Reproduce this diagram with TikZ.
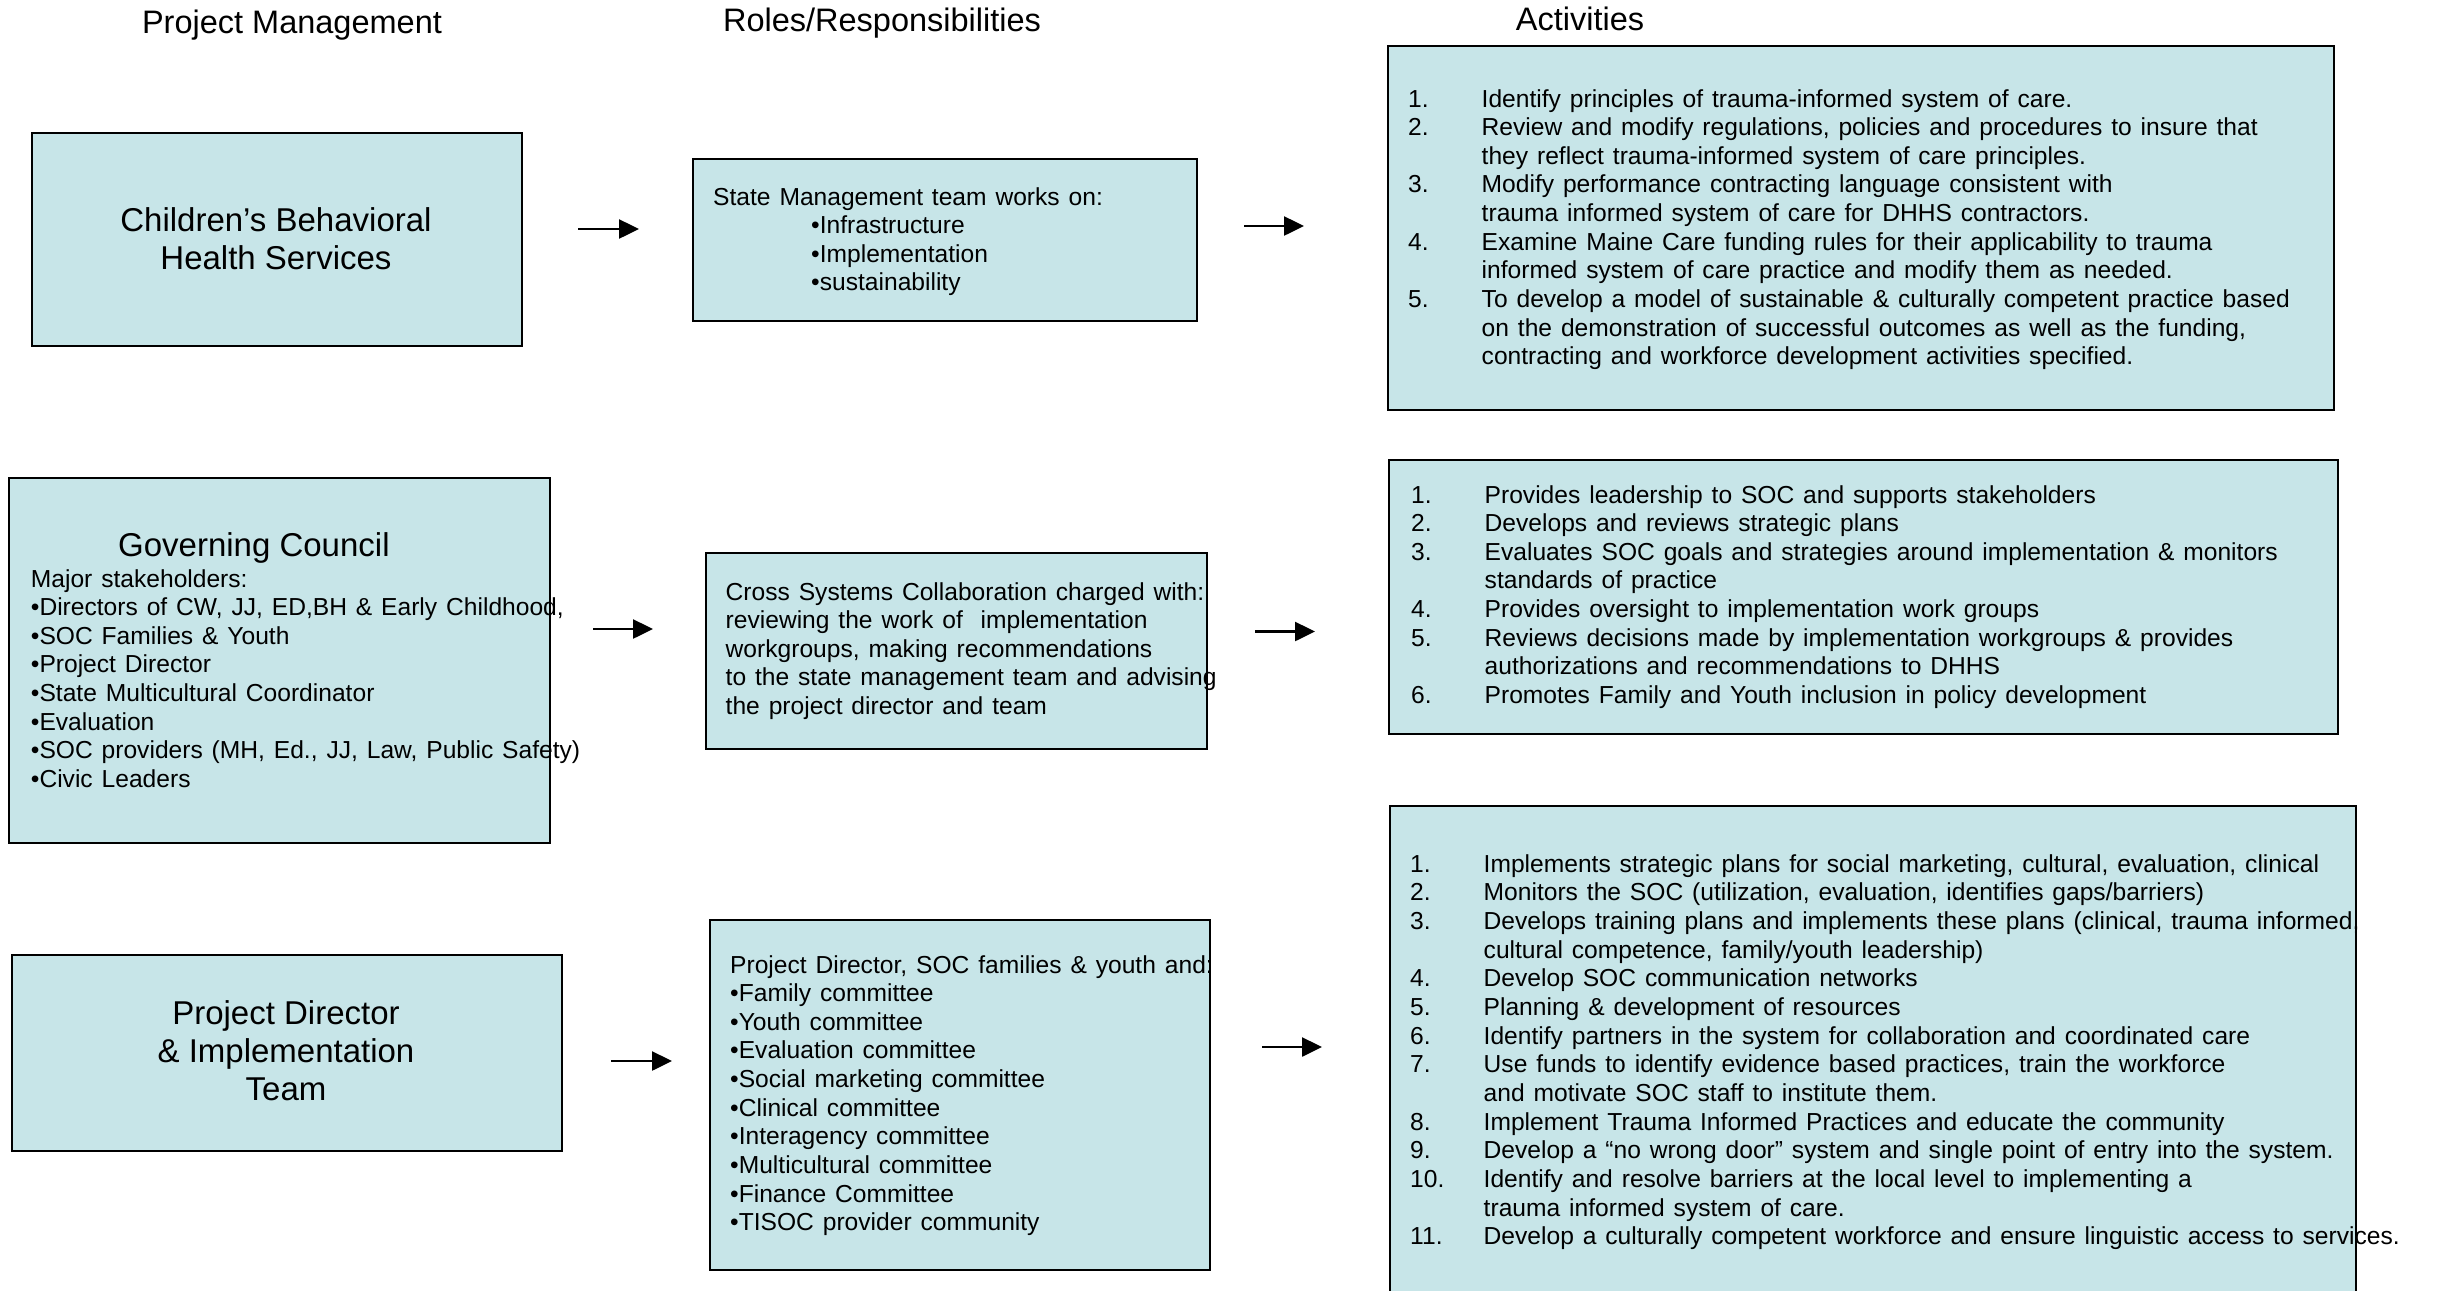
\documentclass[tikz,border=0pt]{standalone}
\usepackage{fontspec}
\setmainfont{Liberation Sans}
\newfontfamily\bodyfont[WordSpace=1.3]{Liberation Sans}
\usetikzlibrary{arrows.meta}
\definecolor{boxfill}{RGB}{199,229,232}
\newcommand\nlab[1]{\makebox[73.5bp][l]{#1}}
\newcommand\nind{\hspace*{73.5bp}}
\begin{document}
\begin{tikzpicture}[x=1bp,y=-1bp,
  box/.style={draw=black, line width=2bp, fill=boxfill, inner sep=0pt, anchor=north west},
  hdr/.style={font=\fontsize{32.5bp}{38bp}\selectfont, inner sep=0pt, anchor=base},
  ttl/.style={font=\fontsize{33bp}{38.4bp}\selectfont, inner sep=0pt, align=center, anchor=base},
  body/.style={font=\bodyfont\fontsize{24.6bp}{28.65bp}\selectfont, inner sep=0pt, align=left, anchor=base west},
  arr/.style={line width=2.5bp, -{Triangle[length=20bp,width=19bp]}}]
\fill[white] (0,0) rectangle (2438,1290);
\useasboundingbox (0,0) rectangle (2438,1290);
\clip (0,0) rectangle (2438,1290);

% column headers
\node[hdr] (h1) at (292,33) {Project Management};
\node[hdr] (h2) at (882,31) {Roles/Responsibilities};
\node[hdr] (h3) at (1580,30) {Activities};

% boxes
\node[box, minimum width=490bp, minimum height=213bp] (pm1) at (31,132) {};
\node[box, minimum width=504bp, minimum height=162bp] (rr1) at (692,158) {};
\node[box, minimum width=946bp, minimum height=364bp] (ac1) at (1387,45) {};
\node[box, minimum width=541bp, minimum height=365bp] (pm2) at (8,477) {};
\node[box, minimum width=501bp, minimum height=196bp] (rr2) at (705,552) {};
\node[box, minimum width=949bp, minimum height=274bp] (ac2) at (1388,459) {};
\node[box, minimum width=550bp, minimum height=196bp] (pm3) at (11,954) {};
\node[box, minimum width=500bp, minimum height=350bp] (rr3) at (709,919) {};
\node[box, minimum width=966bp, minimum height=520bp] (ac3) at (1389,805) {};

% (multi-line nodes are anchored at the baseline of their last line)
% row 1 texts
\node[ttl] (t1) at (276,269.4) {Children’s Behavioral\\Health Services};
\node[body] (t2) at (713,205) {State Management team works on:};
\node[body] (t3) at (811,290.8) {•Infrastructure\\•Implementation\\•sustainability};
\node[body] (t4) at (1408,364.85) {%
\nlab{1.}Identify principles of trauma-informed system of care.\\
\nlab{2.}Review and modify regulations, policies and procedures to insure that\\
\nind they reflect trauma-informed system of care principles.\\
\nlab{3.}Modify performance contracting language consistent with\\
\nind trauma informed system of care for DHHS contractors.\\
\nlab{4.}Examine Maine Care funding rules for their applicability to trauma\\
\nind informed system of care practice and modify them as needed.\\
\nlab{5.}To develop a model of sustainable \& culturally competent practice based\\
\nind on the demonstration of successful outcomes as well as the funding,\\
\nind contracting and workforce development activities specified.};

% row 2 texts
\node[ttl, anchor=base west] (t5) at (118,556) {Governing Council};
\node[body] (t6) at (30.7,787.55) {Major stakeholders:\\
•Directors of CW, JJ, ED,BH \& Early Childhood,\\
•SOC Families \& Youth\\
•Project Director\\
•State Multicultural Coordinator\\
•Evaluation\\
•SOC providers (MH, Ed., JJ, Law, Public Safety)\\
•Civic Leaders};
\node[body] (t8) at (725.5,714.6) {Cross Systems Collaboration charged with:\\
reviewing the work of~ implementation\\
workgroups, making recommendations\\
to the state management team and advising\\
the project director and team};
\node[body] (t9) at (1411,703.55) {%
\nlab{1.}Provides leadership to SOC and supports stakeholders\\
\nlab{2.}Develops and reviews strategic plans\\
\nlab{3.}Evaluates SOC goals and strategies around implementation \& monitors\\
\nind standards of practice\\
\nlab{4.}Provides oversight to implementation work groups\\
\nlab{5.}Reviews decisions made by implementation workgroups \& provides\\
\nind authorizations and recommendations to DHHS\\
\nlab{6.}Promotes Family and Youth inclusion in policy development};

% row 3 texts
\node[ttl] (t7) at (286,1100.8) {Project Director\\\& Implementation\\Team};
\node[body] (t10) at (730,1230.85) {Project Director, SOC families \& youth and:\\
•Family committee\\
•Youth committee\\
•Evaluation committee\\
•Social marketing committee\\
•Clinical committee\\
•Interagency committee\\
•Multicultural committee\\
•Finance Committee\\
•TISOC provider community};
\node[body] (t11) at (1410,1244.75) {%
\nlab{1.}Implements strategic plans for social marketing, cultural, evaluation, clinical\\
\nlab{2.}Monitors the SOC (utilization, evaluation, identifies gaps/barriers)\\
\nlab{3.}Develops training plans and implements these plans (clinical, trauma informed,\\
\nind cultural competence, family/youth leadership)\\
\nlab{4.}Develop SOC communication networks\\
\nlab{5.}Planning \& development of resources\\
\nlab{6.}Identify partners in the system for collaboration and coordinated care\\
\nlab{7.}Use funds to identify evidence based practices, train the workforce\\
\nind and motivate SOC staff to institute them.\\
\nlab{8.}Implement Trauma Informed Practices and educate the community\\
\nlab{9.}Develop a “no wrong door” system and single point of entry into the system.\\
\nlab{10.}Identify and resolve barriers at the local level to implementing a\\
\nind trauma informed system of care.\\
\nlab{11.}Develop a culturally competent workforce and ensure linguistic access to services.};

% arrows
\coordinate (a1s) at (578,229);   \coordinate (a1e) at (639,229);
\coordinate (a2s) at (1244,226);  \coordinate (a2e) at (1304,226);
\coordinate (a3s) at (593,629);   \coordinate (a3e) at (653,629);
\coordinate (a4s) at (1255,631.5);\coordinate (a4e) at (1315,631.5);
\coordinate (a5s) at (611,1061);  \coordinate (a5e) at (672,1061);
\coordinate (a6s) at (1262,1047); \coordinate (a6e) at (1322,1047);
\draw[arr] (a1s) -- (a1e);
\draw[arr] (a2s) -- (a2e);
\draw[arr] (a3s) -- (a3e);
\draw[arr] (a4s) -- (a4e);
\draw[arr] (a5s) -- (a5e);
\draw[arr] (a6s) -- (a6e);
\end{tikzpicture}
\end{document}
